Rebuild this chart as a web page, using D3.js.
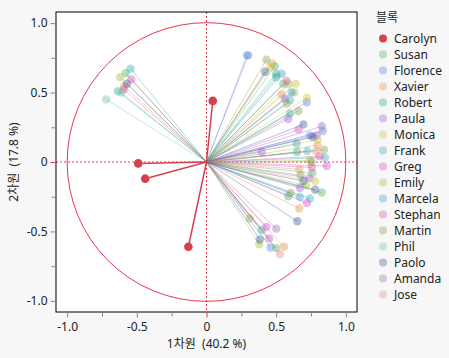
<!DOCTYPE html>
<html><head><meta charset="utf-8">
<script src="https://cdn.jsdelivr.net/npm/d3@7"></script>
<style>
body{margin:0;background:#f7f7f7;}
text{font-family:"Segoe UI","Noto Sans","Noto Sans CJK KR",sans-serif;white-space:pre;}
</style></head>
<body><svg id="c" width="449" height="358"></svg>
<script>
const blocks = ["Carolyn","Susan","Florence","Xavier","Robert","Paula","Monica","Frank","Greg","Emily","Marcela","Stephan","Martin","Phil","Paolo","Amanda","Jose"];
const colors = ["#d5424f","#4cb05a","#5b7fe0","#e0904a","#26a98f","#a455e0","#c9c23a","#2fb0bf","#d448c8","#9fbb3a","#3d9cc8","#d94aa6","#8a9a4a","#6cc39a","#3a5a8c","#9a6aa8","#e0907a"];
const carolyn = [[0.045,0.44],[-0.49,-0.01],[-0.44,-0.12],[-0.13,-0.61]];
const susan = [[-0.58,0.64],[0.49,0.69],[0.76,-0.079],[0.827,-0.22],[0.50,-0.62],[0.55,0.564]];
const florence = [[0.72,0.43],[0.835,0.223],[0.46,-0.616],[0.743,0.192]];
const xavier = [[-0.59,0.545],[0.47,0.71],[0.54,0.487],[0.796,0.12],[0.666,-0.053],[0.556,-0.61],[0.666,-0.335]];
const robert = [[-0.636,0.509],[0.50,0.636],[0.50,0.61],[0.60,0.35],[0.647,0.132],[0.65,0.072],[0.587,-0.247],[0.396,-0.49]];
const paula = [[0.30,0.768],[0.563,0.456],[0.587,0.31],[0.79,0.192],[0.738,-0.115],[0.67,-0.187],[0.396,0.072]];
const monica = [[0.455,0.68],[0.64,0.564],[0.72,0.463],[0.80,0.161],[0.78,-0.139]];
const frank = [[-0.545,0.672],[0.29,0.768],[0.60,0.444],[0.85,0.032],[0.743,-0.263],[0.724,0.079]];
const greg = [[-0.54,0.595],[0.66,0.233],[0.863,-0.029],[0.72,-0.295],[0.43,-0.468],[0.45,-0.55]];
const emily = [[-0.62,0.61],[0.587,0.56],[0.63,0.50],[0.743,0.012],[0.714,-0.168],[0.378,-0.592]];
const marcela = [[0.67,-0.252],[0.54,0.636],[0.61,0.50]];
const stephan = [[-0.593,0.523],[0.575,0.583],[0.81,0.041],[0.755,-0.04]];
const martin = [[0.43,0.737],[0.575,0.42],[0.844,0.089],[0.755,0.0],[0.676,-0.095],[0.31,-0.407],[0.604,-0.223],[0.66,0.367]];
const phil = [[-0.72,0.45],[-0.61,0.50]];
const paolo = [[-0.57,0.564],[0.42,0.65],[0.695,0.27],[0.762,0.18],[0.695,-0.137],[0.78,-0.2],[0.652,-0.427],[0.383,-0.558]];
const amanda = [[0.827,0.257],[0.50,-0.48]];
const jose = [[0.527,-0.664],[0.786,0.079]];
const seriesValues = [carolyn,susan,florence,xavier,robert,paula,monica,frank,greg,emily,marcela,stephan,martin,phil,paolo,amanda,jose];
const majorTicks = [-1.0,-0.5,0,0.5,1.0];
const minorTicks = [-0.75,-0.25,0.25,0.75];
const tickLabels = ["-1.0","-0.5","0","0.5","1.0"];
const xTitle = "1차원  (40.2 %)";
const yTitle = "2차원  (17.8 %)";
const legendTitle = "블록";

const svg = d3.select("#c");
const L=56,R=357,T=12,B=312;
const x = d3.scaleLinear().domain([-1.08,1.08]).range([L,R]);
const y = d3.scaleLinear().domain([-1.08,1.08]).range([B,T]);

svg.append("rect").attr("x",L).attr("y",T).attr("width",R-L).attr("height",B-T).attr("fill","#fff");
svg.append("clipPath").attr("id","cl").append("rect").attr("x",L).attr("y",T).attr("width",R-L).attr("height",B-T);
const g = svg.append("g").attr("clip-path","url(#cl)");

const red = "#e8394f";
g.append("circle").attr("cx",x(0)).attr("cy",y(0)).attr("r",x(1)-x(0)).attr("fill","none").attr("stroke",red).attr("stroke-width",1);
g.append("line").attr("x1",x(0)).attr("x2",x(0)).attr("y1",T).attr("y2",B).attr("stroke",red).attr("stroke-dasharray","2,2");
g.append("line").attr("x1",L).attr("x2",R).attr("y1",y(0)).attr("y2",y(0)).attr("stroke",red).attr("stroke-dasharray","2,2");

const order = d3.range(1,blocks.length).concat([0]);
order.forEach(i=>{
  const pts = seriesValues[i];
  const c = colors[i];
  const main = i===0;
  g.append("g").selectAll("line").data(pts).join("line")
    .attr("x1",x(0)).attr("y1",y(0)).attr("x2",d=>x(d[0])).attr("y2",d=>y(d[1]))
    .attr("stroke",c).attr("stroke-width",main?1.5:1).attr("stroke-opacity",main?1:0.38);
  g.append("g").selectAll("circle").data(pts).join("circle")
    .attr("cx",d=>x(d[0])).attr("cy",d=>y(d[1])).attr("r",main?4.3:4.2)
    .attr("fill",c).attr("fill-opacity",main?1:0.4);
});

svg.append("rect").attr("x",L).attr("y",T).attr("width",R-L).attr("height",B-T).attr("fill","none").attr("stroke","#000").attr("stroke-width",1);

const xa = d3.axisBottom(x).tickValues(majorTicks).tickFormat((d,i)=>tickLabels[i]).tickSize(5).tickSizeOuter(0);
const xg = svg.append("g").attr("transform",`translate(0,${B+0.5})`).call(xa);
const ya = d3.axisLeft(y).tickValues(majorTicks).tickFormat((d,i)=>tickLabels[i]).tickSize(5).tickSizeOuter(0);
const yg = svg.append("g").attr("transform",`translate(${L-0.5},0)`).call(ya);
svg.append("g").attr("transform",`translate(0,${B+0.5})`).call(d3.axisBottom(x).tickValues(minorTicks).tickFormat("").tickSize(4).tickSizeOuter(0));
svg.append("g").attr("transform",`translate(${L-0.5},0)`).call(d3.axisLeft(y).tickValues(minorTicks).tickFormat("").tickSize(4).tickSizeOuter(0));
svg.selectAll(".domain").remove();
svg.selectAll(".tick line").attr("stroke","#888");
[xg,yg].forEach(a=>a.selectAll(".tick").filter(d=>d===0).select("line").attr("stroke",red));
svg.selectAll(".tick text").attr("font-size",12).attr("fill","#222");
xg.selectAll(".tick text").attr("dy","0.9em");

svg.append("text").attr("x",(L+R)/2).attr("y",348).attr("text-anchor","middle").attr("font-size",12).attr("fill","#222").text(xTitle);
svg.append("text").attr("transform",`translate(18,${(T+B)/2}) rotate(-90)`).attr("text-anchor","middle").attr("font-size",12).attr("fill","#222").text(yTitle);

const lg = svg.append("g");
lg.append("text").attr("x",376).attr("y",22).attr("font-size",12).attr("fill","#222").text(legendTitle);
blocks.forEach((b,i)=>{
  const yy = 38.5 + i*16;
  lg.append("circle").attr("cx",383).attr("cy",yy).attr("r",4).attr("fill",colors[i]).attr("fill-opacity",i===0?1:0.35);
  lg.append("text").attr("x",394).attr("y",yy+4).attr("font-size",12).attr("fill","#222").text(b);
});
</script></body></html>
